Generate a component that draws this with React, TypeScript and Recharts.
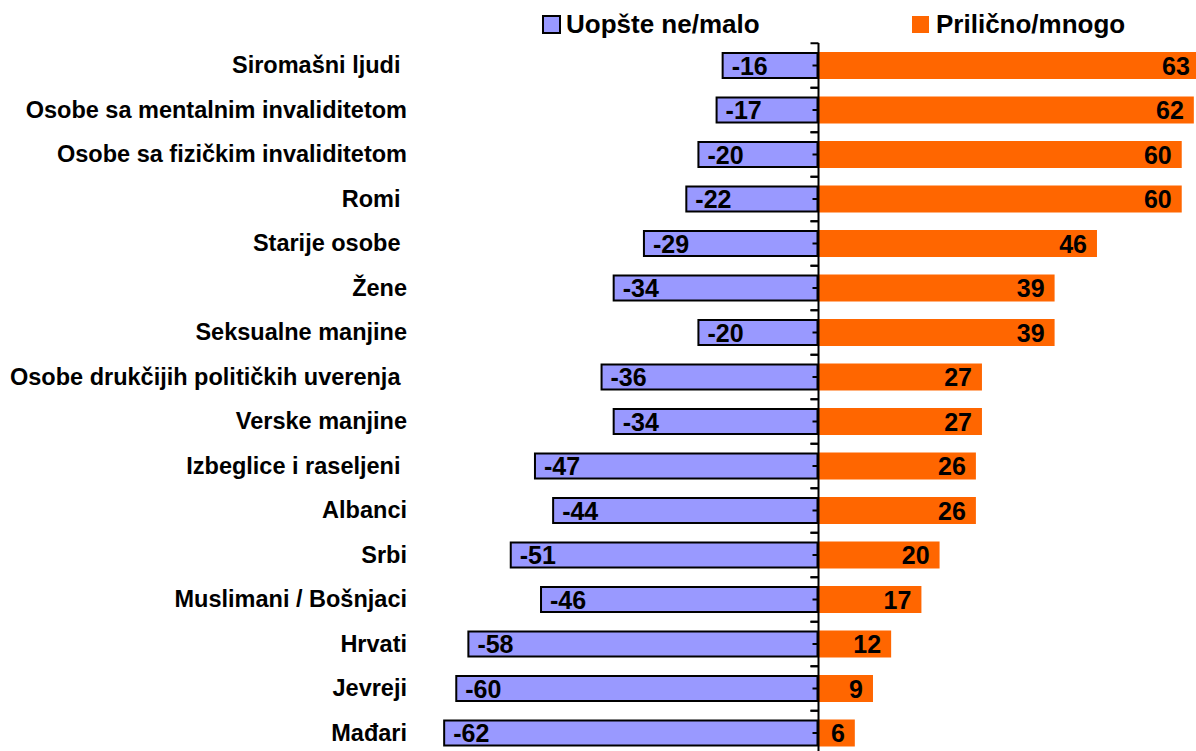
import { BarChart, Bar, XAxis, YAxis, ReferenceLine, LabelList } from 'recharts'

const categories = [
  'Siromašni ljudi ',
  'Osobe sa mentalnim invaliditetom',
  'Osobe sa fizičkim invaliditetom',
  'Romi ',
  'Starije osobe ',
  'Žene',
  'Seksualne manjine',
  'Osobe drukčijih političkih uverenja ',
  'Verske manjine',
  'Izbeglice i raseljeni ',
  'Albanci',
  'Srbi',
  'Muslimani / Bošnjaci',
  'Hrvati',
  'Jevreji',
  'Mađari',
]

const notAtAll = [-16, -17, -20, -22, -29, -34, -20, -36, -34, -47, -44, -51, -46, -58, -60, -62]
const quiteMuch = [63, 62, 60, 60, 46, 39, 39, 27, 27, 26, 26, 20, 17, 12, 9, 6]

const FONT = "'Liberation Sans', Arial, sans-serif"
const PURPLE = '#9999FF'
const ORANGE = '#FF6600'
const BAND = 44.5

const data = categories.map((name, i) => ({
  name,
  low: notAtAll[i],
  high: quiteMuch[i],
}))

// category label, right aligned left of the plot
function CategoryTick(props: any) {
  const { y, payload } = props
  return (
    <text
      x={407}
      y={y}
      dy="0.35em"
      textAnchor="end"
      fontFamily={FONT}
      fontWeight="bold"
      fontSize={23.5}
      fill="#000"
      style={{ whiteSpace: 'pre' }}
    >
      {payload.value}
    </text>
  )
}

// purple bar with black border, plus the axis ticks at the zero line
function LowBar(props: any) {
  const { x, y, width, height } = props
  const left = Math.min(x, x + width)
  const right = Math.max(x, x + width)
  const yc = y + height / 2
  return (
    <g>
      <rect x={left + 1} y={y + 1} width={right - left - 2} height={height - 2} fill={PURPLE} stroke="#000" strokeWidth={2} />
      <line x1={right - 6} x2={right} y1={yc} y2={yc} stroke="#000" strokeWidth={2} />
      <line x1={right - 8} x2={right} y1={yc - BAND / 2} y2={yc - BAND / 2} stroke="#000" strokeWidth={2} />
      <line x1={right - 8} x2={right} y1={yc + BAND / 2} y2={yc + BAND / 2} stroke="#000" strokeWidth={2} />
    </g>
  )
}

function lowLabel(props: any) {
  const { x, y, width, height, value } = props
  const left = Math.min(x, x + width)
  return (
    <text x={left + 10} y={y + height / 2} dy="0.36em" textAnchor="start" fontFamily={FONT} fontWeight="bold" fontSize={25} fill="#000">
      {value}
    </text>
  )
}

function highLabel(props: any) {
  const { x, y, width, height, value } = props
  const right = Math.max(x, x + width)
  return (
    <text x={right - 10} y={y + height / 2} dy="0.36em" textAnchor="end" fontFamily={FONT} fontWeight="bold" fontSize={25} fill="#000">
      {value}
    </text>
  )
}

const legendText: React.CSSProperties = {
  position: 'absolute',
  top: 9,
  fontFamily: FONT,
  fontWeight: 'bold',
  fontSize: 26,
  lineHeight: '30px',
  color: '#000',
  whiteSpace: 'nowrap',
}

export default function App() {
  return (
    <div style={{ position: 'fixed', left: 0, top: 0, width: 1196, height: 751, overflow: 'hidden', background: '#fff' }}>
      <div style={{ position: 'absolute', left: 542, top: 15, width: 15, height: 15, background: PURPLE, border: '2px solid #000' }} />
      <div style={{ ...legendText, left: 566 }}>Uopšte ne/malo</div>
      <div style={{ position: 'absolute', left: 912, top: 16, width: 17, height: 17, background: ORANGE }} />
      <div style={{ ...legendText, left: 936 }}>Prilično/mnogo</div>

      <BarChart
        width={1212}
        height={755}
        data={data}
        layout="vertical"
        stackOffset="sign"
        barSize={27}
        margin={{ top: 43, right: 0, bottom: 0, left: 0 }}
      >
        <XAxis type="number" domain={[-65, 65]} allowDataOverflow hide />
        <YAxis
          type="category"
          dataKey="name"
          width={425}
          axisLine={false}
          tickLine={false}
          interval={0}
          tick={<CategoryTick />}
        />
        <Bar dataKey="low" stackId="a" fill={PURPLE} shape={<LowBar />} isAnimationActive={false}>
          <LabelList dataKey="low" content={lowLabel} />
        </Bar>
        <Bar dataKey="high" stackId="a" fill={ORANGE} isAnimationActive={false}>
          <LabelList dataKey="high" content={highLabel} />
        </Bar>
        <ReferenceLine x={0} stroke="#000" strokeWidth={2} />
      </BarChart>
    </div>
  )
}
